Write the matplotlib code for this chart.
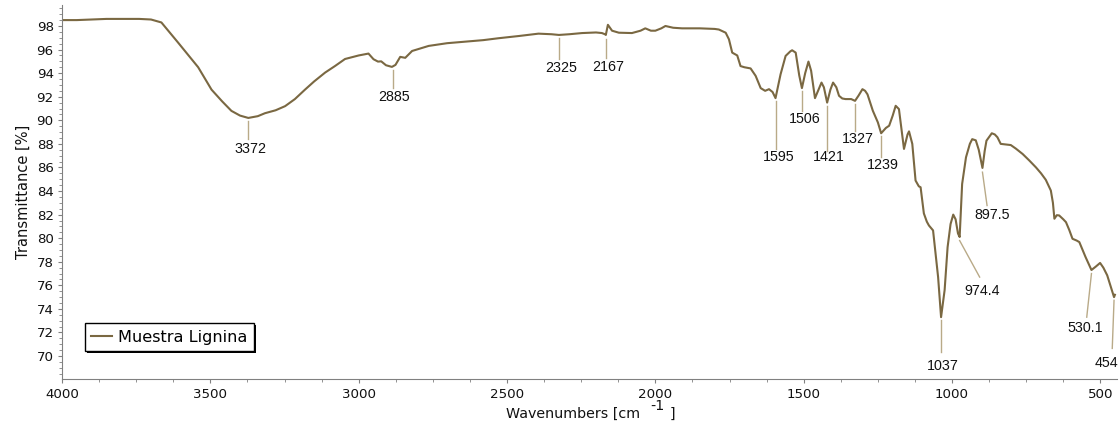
import matplotlib.pyplot as plt
from matplotlib.ticker import MultipleLocator
from matplotlib.patches import Rectangle
from matplotlib.transforms import IdentityTransform

# spectrum
wavenumber = [4000, 3950, 3900, 3850, 3800, 3740, 3700, 3665, 3609, 3541, 3496, 3460, 3429, 3400,
              3372, 3340, 3316, 3280, 3248, 3215, 3181, 3150, 3113, 3080, 3046, 3000, 2967, 2950,
              2935, 2924, 2908, 2888, 2876, 2860, 2843, 2820, 2764, 2702, 2641, 2580,
              2529, 2460, 2394, 2350, 2325, 2290, 2247, 2200, 2180, 2170, 2167, 2160, 2146, 2123,
              2079, 2050, 2034, 2015, 2000, 1980, 1966, 1940, 1910, 1850, 1800, 1786, 1763, 1752,
              1741, 1724, 1713, 1700, 1679, 1662, 1645, 1630, 1617, 1605, 1595, 1578, 1561, 1545,
              1539, 1527, 1515, 1506, 1495, 1484, 1475, 1462, 1450, 1440, 1432, 1421, 1410, 1401,
              1390, 1381, 1370, 1359, 1340, 1327, 1315, 1302, 1293, 1285, 1267, 1250, 1239, 1223,
              1212, 1200, 1190, 1179, 1162, 1150, 1145, 1134, 1123, 1112, 1106, 1095, 1085,
              1078, 1064, 1055, 1047, 1037, 1025, 1015, 1005, 996, 988, 980, 974.4, 966, 953, 940,
              932, 920, 910, 897.5, 890, 884, 866, 856, 847, 836, 820, 802, 785, 762, 740, 717, 700,
              684, 667, 660, 655, 647, 639, 625, 616, 605, 594, 580, 571, 550, 530.1, 515, 501, 490,
              477, 465, 454, 451]
transmittance = [98.5, 98.5, 98.55, 98.6, 98.6, 98.6, 98.55, 98.3, 96.6, 94.5, 92.6, 91.6, 90.8, 90.4,
                 90.2, 90.35, 90.6, 90.85, 91.2, 91.8, 92.6, 93.3, 94.05, 94.6, 95.2, 95.5, 95.66, 95.18,
                 94.98, 95.0, 94.67, 94.53, 94.7, 95.38, 95.3, 95.88, 96.31, 96.54, 96.67, 96.8,
                 96.96, 97.15, 97.35, 97.3, 97.24, 97.3, 97.4, 97.45, 97.4, 97.3, 97.24, 98.1, 97.6, 97.43,
                 97.4, 97.6, 97.8, 97.6, 97.6, 97.8, 98.0, 97.85, 97.8, 97.8, 97.75, 97.7, 97.43, 96.87,
                 95.74, 95.5, 94.6, 94.5, 94.4, 93.77, 92.73, 92.5, 92.64, 92.4, 91.88, 93.9, 95.46, 95.85,
                 95.94, 95.74, 93.8, 92.73, 94.0, 94.98, 94.2, 91.88, 92.6, 93.2, 92.8, 91.5, 92.6, 93.2,
                 92.8, 92.08, 91.85, 91.8, 91.8, 91.65, 92.1, 92.64, 92.5, 92.2, 90.81, 89.82, 88.9, 89.35,
                 89.54, 90.4, 91.23, 90.95, 87.57, 88.8, 89.06, 88.0, 84.89, 84.4, 84.32, 82.1, 81.4,
                 81.08, 80.66, 78.6, 76.7, 73.3, 75.6, 79.24, 81.2, 82.0, 81.6, 80.4, 80.1, 84.6, 86.86, 88.0,
                 88.4, 88.3, 87.5, 85.96, 87.4, 88.27, 88.9, 88.8, 88.56, 88.0, 87.95, 87.9, 87.6, 87.14, 86.6, 86.0, 85.5,
                 84.95, 84.04, 83.0, 81.65, 81.95, 81.93, 81.6, 81.36, 80.7, 79.95, 79.8, 79.67, 78.4, 77.3, 77.6, 77.9, 77.5,
                 76.85, 75.9, 75.0, 75.2]

# peak picks
peak_names = ["3372", "2885", "2325", "2167", "1595", "1506", "1421", "1327", "1239",
              "1037", "974.4", "897.5", "530.1", "454"]
peak_wn = [3372, 2885, 2325, 2167, 1595, 1506, 1421, 1327, 1239, 1037, 974.4, 897.5, 530.1, 454]

# leader lines and label placement
lead_top = [89.96, 94.28, 96.96, 96.87, 91.65, 92.5, 91.2, 91.37, 88.7, 73.04, 79.8, 85.6, 77.0, 74.73]
lead_end_wn = [3372, 2885, 2325, 2167, 1595, 1506, 1421, 1327, 1239, 1037, 907, 882, 546, 460]
lead_end_T = [88.44, 92.73, 95.18, 95.32, 87.57, 90.8, 87.4, 89.1, 86.86, 70.36, 76.7, 82.77, 73.3, 70.65]
label_wn = [3366, 2880, 2318, 2160, 1586, 1498, 1414, 1319, 1232, 1030, 897, 864, 552, 478]
label_T = [87.57, 91.94, 94.47, 94.56, 86.86, 90.1, 86.86, 88.4, 86.24, 69.15, 75.5, 82.0, 72.34, 69.4]

line_color = "#7a6842"
lead_color = "#b9aa88"
axis_color = "#808080"

fig = plt.figure(figsize=(11.2, 4.21), dpi=100)
ax = fig.add_axes([62 / 1120, 1 - 379.3 / 421, 1055.3 / 1120, 374.3 / 421])

ax.plot(wavenumber, transmittance, color=line_color, lw=1.5, label="Muestra Lignina")

for i in range(len(peak_names)):
    ax.plot([peak_wn[i], lead_end_wn[i]], [lead_top[i], lead_end_T[i]], color=lead_color, lw=1,
            clip_on=False)
    ax.text(label_wn[i], label_T[i], peak_names[i], ha="center", va="center", fontsize=10.3,
            family="Liberation Sans", color="#111111", clip_on=False)

ax.set_xlim(4000, 443)
ax.set_ylim(68.03, 99.78)
ax.set_xticks([4000, 3500, 3000, 2500, 2000, 1500, 1000, 500])
ax.xaxis.set_minor_locator(MultipleLocator(125))
ax.set_yticks(range(70, 100, 2))
ax.yaxis.set_minor_locator(MultipleLocator(0.5))

for side in ["top", "right"]:
    ax.spines[side].set_visible(False)
for side in ["left", "bottom"]:
    ax.spines[side].set_color(axis_color)
ax.tick_params(which="both", direction="out", color=axis_color, labelsize=9.6, labelcolor="#111111")
ax.tick_params(which="major", length=3, pad=3)
ax.tick_params(which="minor", length=2)

ax.set_ylabel("Transmittance [%]", fontsize=10.5, color="#111111", labelpad=4)

# x label drawn in pieces, like the original export
fig.text(506 / 1120, 1 - 418 / 421, "Wavenumbers [cm", fontsize=10.3, va="baseline", ha="left",
         color="#111111")
fig.text(657 / 1120, 1 - 409.5 / 421, "-1", fontsize=10.3, va="baseline", ha="center", color="#111111")
fig.text(670 / 1120, 1 - 418 / 421, "]", fontsize=10.3, va="baseline", ha="left", color="#111111")

leg = ax.legend(loc="lower left", bbox_to_anchor=(23 / 1055.3, 28.3 / 374.3), borderaxespad=0,
                fancybox=False, edgecolor="black", framealpha=1, fontsize=11.6,
                handlelength=1.25, handletextpad=0.4, borderpad=0.4)
leg.get_frame().set_linewidth(1)

# thin hard shadow under the legend box
fig.canvas.draw()
bb = leg.get_frame().get_window_extent()
shadow = Rectangle((bb.x0 + 2, bb.y0 - 2), bb.width, bb.height, facecolor="black", edgecolor="none",
                   transform=IdentityTransform(), zorder=4.9, clip_on=False)
ax.add_artist(shadow)

fig.savefig("out.png", dpi=100)
